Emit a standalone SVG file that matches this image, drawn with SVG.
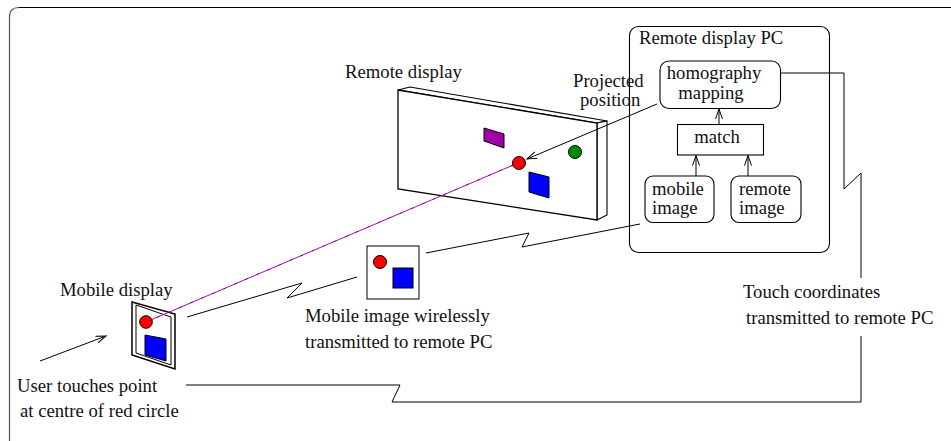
<svg xmlns="http://www.w3.org/2000/svg" width="951" height="441" viewBox="0 0 951 441" font-family="'Liberation Serif', 'Times New Roman', Times, serif" font-size="18.7">
<defs>
<style>
text{font-family:'Liberation Serif','Times New Roman',Times,serif;font-size:18.7px;fill:#111}
.ln{fill:none;stroke:#000;stroke-width:1}
.box{fill:#fff;stroke:#000;stroke-width:1.1}
.ar{marker-end:url(#arr)}
</style>
<marker id="arr" markerWidth="12" markerHeight="10" refX="10" refY="4" orient="auto" markerUnits="userSpaceOnUse">
<path d="M0,0.5 L10,4 L0,7.5" fill="none" stroke="#000" stroke-width="1"/>
</marker>
</defs>
<rect width="951" height="441" fill="#fff"/>
<path d="M9.5,441 V17 Q9.5,7.5 19,7.5 H951" fill="none" stroke="#555" stroke-width="1.2"/>
<path d="M19,7.5 H951" fill="none" stroke="#000" stroke-width="1.2"/>

<g id="remote-display">
<polygon points="398,90 410,87 607,121 597,123" fill="#fff" stroke="#000" stroke-width="1.1"/>
<polygon points="597,123 607,121 607,215 597,220" fill="#fff" stroke="#000" stroke-width="1.1"/>
<polygon points="398,90 597,123 597,220 398,189" fill="#fff" stroke="#000" stroke-width="1.3"/>
<polygon points="484,128 504,134 504,148 484,141" fill="#a000a8" stroke="#000" stroke-width="1"/>
<circle cx="575" cy="152" r="6.5" fill="#008a00" stroke="#000" stroke-width="1"/>
<polygon points="529,172 549,177 549,198 529,192" fill="#0000ff" stroke="#000" stroke-width="1"/>
<text x="345" y="78">Remote display</text>
</g>

<g id="mobile-display">
<polygon points="132,302 175,314 175,369 132,355" fill="#fff" stroke="#000" stroke-width="1.5"/>
<polygon points="136,305 171,317 171,365 136,353" fill="#fff" stroke="#000" stroke-width="1"/>
<polygon points="145,335 166,339 166,361 145,355" fill="#0000ff" stroke="#000" stroke-width="1"/>
<text x="60" y="296">Mobile display</text>
</g>

<g id="mobile-image">
<rect x="367" y="246" width="52" height="53" fill="#fff" stroke="#000" stroke-width="1"/>
<circle cx="380" cy="262" r="6.5" fill="#ff0000" stroke="#000" stroke-width="1"/>
<rect x="393" y="268" width="20" height="20" fill="#0000ff" stroke="#000" stroke-width="1"/>
<text x="305" y="322">Mobile image wirelessly</text>
<text x="305" y="348">transmitted to remote PC</text>
</g>

<g id="remote-pc">
<rect x="629.5" y="26.5" width="200" height="226" rx="9" class="box"/>
<text x="639" y="44">Remote display PC</text>
</g>

<g id="projected-label">
<text x="573" y="87">Projected</text>
<text x="580" y="106">position</text>
</g>

<g id="homography">
<rect x="660" y="61" width="120.5" height="47.5" rx="9" class="box"/>
<text x="714" y="79" text-anchor="middle">homography</text>
<text x="711" y="99" text-anchor="middle">mapping</text>
</g>

<g id="match">
<rect x="677.5" y="124.5" width="86" height="30.5" class="box"/>
<text x="717" y="143" text-anchor="middle">match</text>
</g>

<g id="mobile-image-box">
<rect x="645" y="176" width="69" height="46.5" rx="8" class="box"/>
<text x="652" y="195">mobile</text>
<text x="652" y="214">image</text>
</g>

<g id="remote-image-box">
<rect x="731" y="176" width="70" height="46.5" rx="8" class="box"/>
<text x="739" y="195">remote</text>
<text x="739" y="214">image</text>
</g>

<g id="user-label">
<text x="17" y="392">User touches point</text>
<text x="20" y="417">at centre of red circle</text>
</g>

<g id="touch-label">
<text x="743" y="298">Touch coordinates</text>
<text x="746" y="324">transmitted to remote PC</text>
</g>

<g id="connectors">
<line x1="146" y1="322" x2="518" y2="163" stroke="#b000c0" stroke-width="1"/>
<line x1="146" y1="322" x2="518" y2="163" stroke="#000" stroke-width="0.8" stroke-dasharray="3,9" opacity="0.6"/>
<circle cx="519" cy="163" r="6.5" fill="#ff0000" stroke="#000" stroke-width="1"/>
<circle cx="146" cy="322" r="6.3" fill="#ff0000" stroke="#000" stroke-width="1"/>
<line x1="657" y1="104" x2="527" y2="159" class="ln ar"/>
<line x1="40" y1="361" x2="106" y2="336" class="ln ar"/>
<line x1="719" y1="124.5" x2="719" y2="109" class="ln ar"/>
<line x1="696" y1="176" x2="696" y2="155.5" class="ln ar"/>
<line x1="748" y1="176" x2="748" y2="155.5" class="ln ar"/>
<polyline points="187,317 302,283 287,298 357,277" class="ln"/>
<polyline points="426,253 529,233 522,247 640,224" class="ln"/>
<polyline points="780.5,73 844,73 844,189 861,173 861,278" class="ln"/>
<polyline points="861,336 861,402 392,402 400,385 186,385" class="ln"/>
</g>
</svg>
